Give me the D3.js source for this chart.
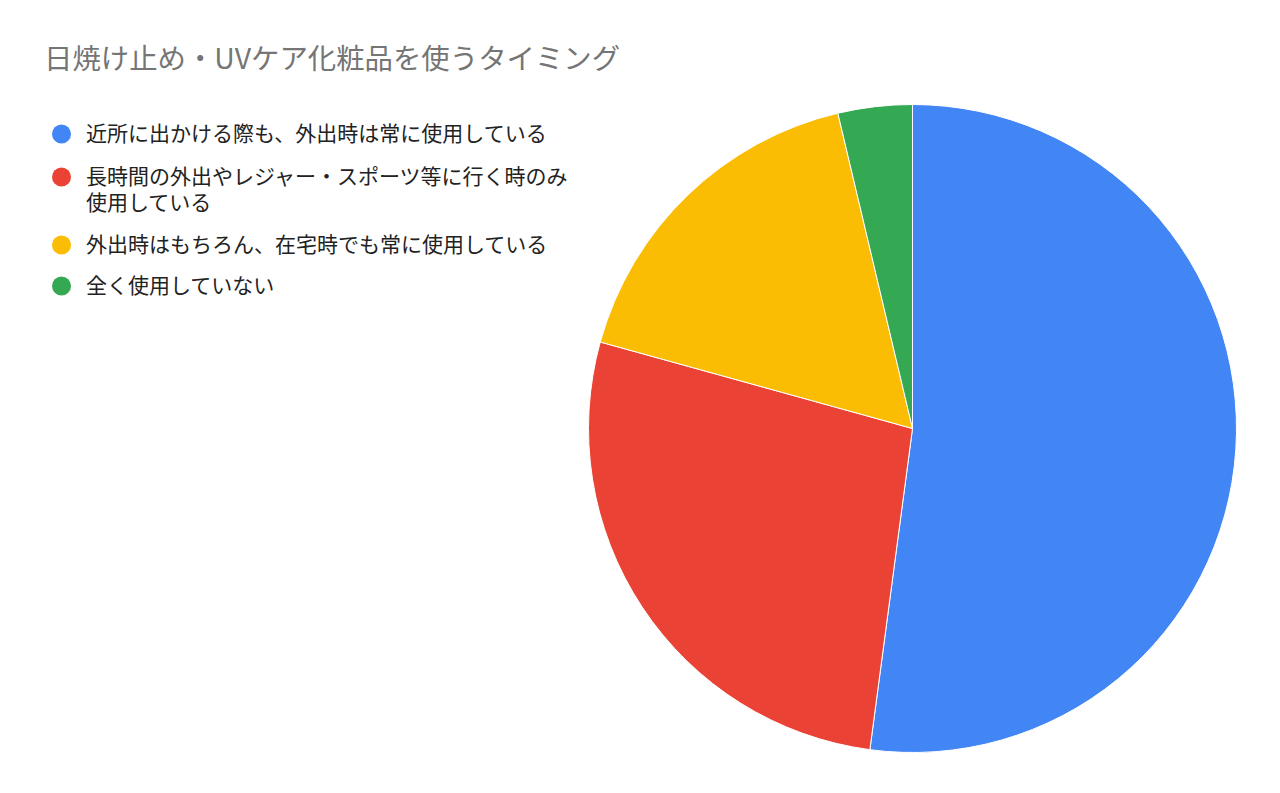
<!DOCTYPE html>
<html><head><meta charset="utf-8">
<script src="https://cdn.jsdelivr.net/npm/d3@7/dist/d3.min.js"></script>
<style>html,body{margin:0;padding:0;background:#fff;}svg{display:block;}</style>
</head><body>
<svg id="chart" width="1280" height="793"></svg>
<script>
const title = "日焼け止め・UVケア化粧品を使うタイミング";
const categories = [
  "近所に出かける際も、外出時は常に使用している",
  "長時間の外出やレジャー・スポーツ等に行く時のみ使用している",
  "外出時はもちろん、在宅時でも常に使用している",
  "全く使用していない"
];
const legendLines = [
  ["近所に出かける際も、外出時は常に使用している"],
  ["長時間の外出やレジャー・スポーツ等に行く時のみ", "使用している"],
  ["外出時はもちろん、在宅時でも常に使用している"],
  ["全く使用していない"]
];
const values = [52.1, 27.2, 17.0, 3.7];
const colors = ["#4285F4", "#EA4335", "#FBBC04", "#34A853"];

const svg = d3.select("#chart");
const font = "'Noto Sans CJK JP', 'Noto Sans', sans-serif";

svg.append("text").attr("x", 44).attr("y", 69)
  .attr("font-family", font).attr("font-size", 28.4).attr("fill", "#757575")
  .text(title);

const cx = 912.5, cy = 428.5, r = 324;
const pie = d3.pie().sort(null).value(d => d)(values);
const arc = d3.arc().innerRadius(0).outerRadius(r);
svg.append("g").attr("transform", `translate(${cx},${cy})`)
  .selectAll("path").data(pie).join("path")
  .attr("d", arc).attr("fill", (d, i) => colors[i])
  .attr("stroke", "#fff").attr("stroke-width", 1);

const itemY = [134, 177, 245, 286];
const lg = svg.append("g");
categories.forEach((c, i) => {
  const g = lg.append("g");
  g.append("circle").attr("cx", 61.5).attr("cy", itemY[i]).attr("r", 9.5).attr("fill", colors[i]);
  const t = g.append("text").attr("x", 86).attr("y", itemY[i])
    .attr("font-family", font).attr("font-size", 21).attr("fill", "#222");
  legendLines[i].forEach((line, j) => {
    t.append("tspan").attr("x", 86).attr("y", itemY[i] + j * 25.5)
      .attr("dy", "0.35em").text(line);
  });
});
</script>
</body></html>
